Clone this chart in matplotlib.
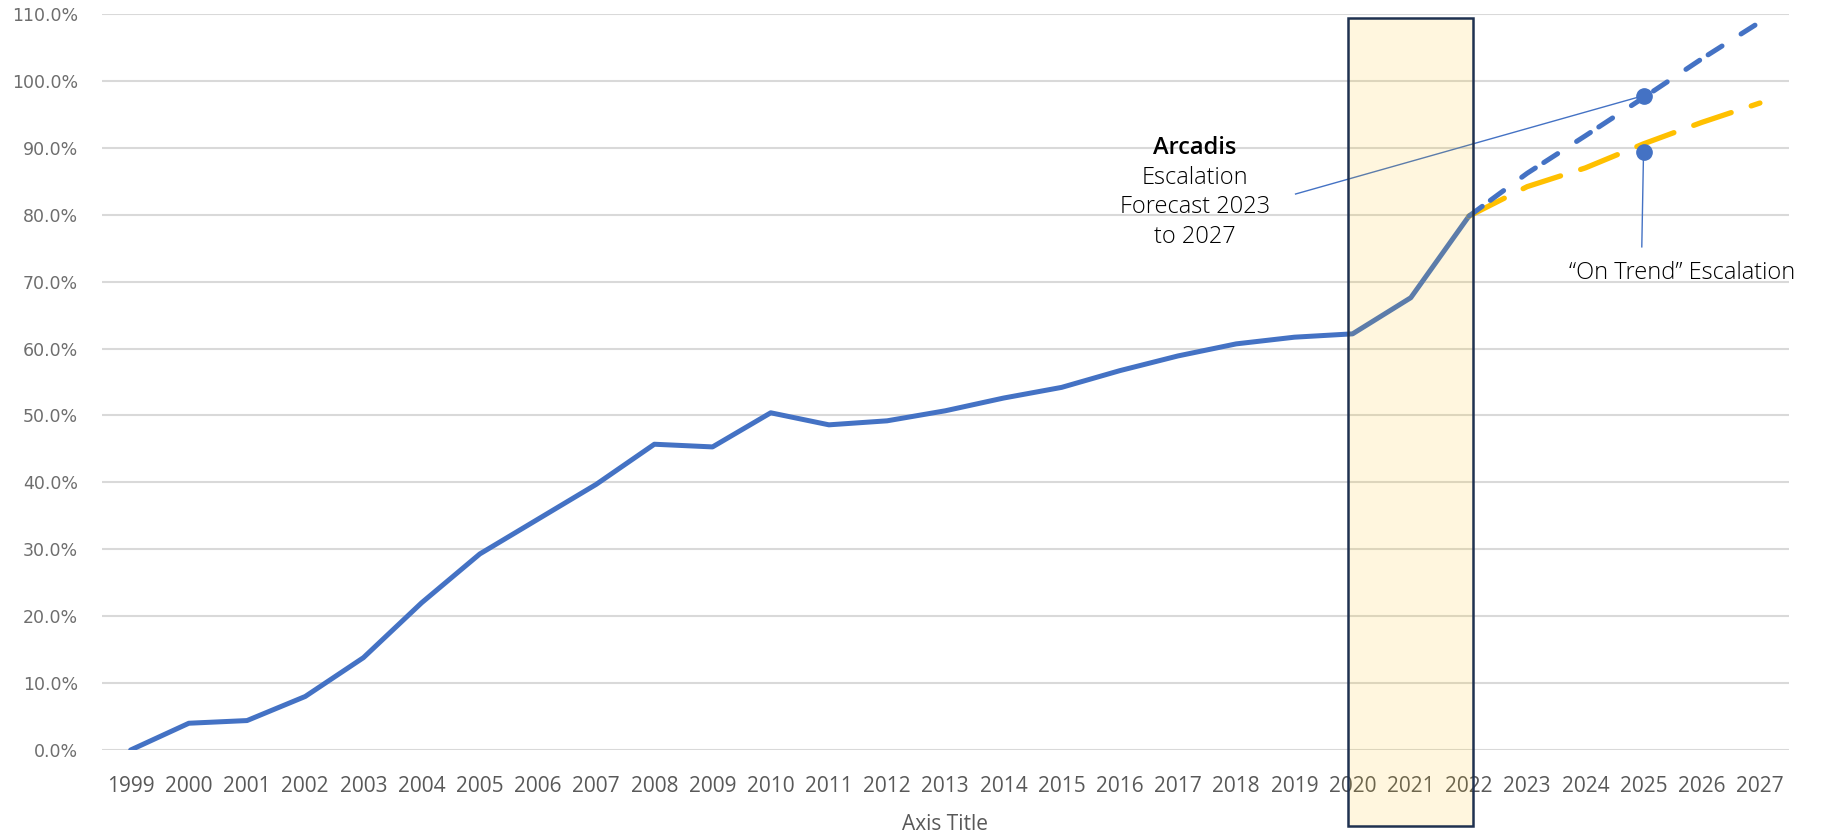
import matplotlib
matplotlib.use("Agg")
import matplotlib.pyplot as plt
import matplotlib.transforms as mtransforms
from matplotlib.patches import Rectangle
from matplotlib.ticker import PercentFormatter
import numpy as np

# ---------------- data ----------------
years = [str(y) for y in range(1999, 2028)]
actual_years = years[:24]          # 1999 .. 2022
actual_values = [0.0, 4.0, 4.4, 8.0, 13.8, 22.0, 29.3, 34.5, 39.7, 45.7, 45.3,
                 50.4, 48.6, 49.2, 50.7, 52.6, 54.2, 56.7, 58.9, 60.7, 61.7,
                 62.2, 67.6, 79.8]
forecast_years = years[23:]        # 2022 .. 2027
arcadis_forecast = [79.8, 86.2, 91.8, 97.5, 103.3, 108.8]
on_trend_forecast = [79.8, 84.2, 87.0, 90.6, 93.8, 96.7]
label_year = "2025"
arcadis_label_point = 97.8
on_trend_label_point = 89.4
highlight_years = ("2020", "2022")
y_ticks = [0, 10, 20, 30, 40, 50, 60, 70, 80, 90, 100, 110]

# ---------------- styling ----------------
FONT = "Open Sans"
BLUE = "#4472C4"
ORANGE = "#FFC000"
GREY = "#595959"
plt.rcParams["font.family"] = [FONT, "DejaVu Sans"]

idx = {y: i for i, y in enumerate(years)}

fig = plt.figure(figsize=(18.3, 8.35), dpi=100)
ax = fig.add_axes([0.0555, 0.1018, 0.9221, 0.8814])

xa = [idx[y] for y in actual_years]
xf = [idx[y] for y in forecast_years]

ax.plot(xa, np.array(actual_values) / 100, color=BLUE, lw=3.6,
        solid_capstyle="round", solid_joinstyle="round", zorder=3)
ax.plot(xf, np.array(on_trend_forecast) / 100, color=ORANGE, lw=3.8,
        dashes=(7.5, 4), dash_capstyle="round", zorder=3)
ax.plot(xf, np.array(arcadis_forecast) / 100, color=BLUE, lw=3.6,
        dashes=(3.3, 2, 3.3, 4.5), dash_capstyle="round", zorder=4)

# label markers and leader lines
xl = idx[label_year]
ax.plot([20.02, xl], [0.831, arcadis_label_point / 100], color=BLUE, lw=1, zorder=5)
ax.plot([xl - 0.03, xl], [0.752, on_trend_label_point / 100], color=BLUE, lw=1, zorder=5)
ax.plot([xl, xl], [arcadis_label_point / 100, on_trend_label_point / 100], 'o',
        color=BLUE, ms=11, zorder=6)

ax.text(18.29, 0.900, "Arcadis", ha="center", va="center", fontsize=17,
        fontweight="semibold", color="black")
for yy, line in zip([0.855, 0.811, 0.766], ["Escalation", "Forecast 2023", "to 2027"]):
    ax.text(18.29, yy, line, ha="center", va="center", fontsize=17,
            fontweight="light", color="black")
ax.text(26.67, 0.713, "\u201cOn Trend\u201d Escalation", ha="center", va="center",
        fontsize=17, fontweight="light", color="black")

# highlight box
trans = mtransforms.blended_transform_factory(ax.transData, ax.transAxes)
x0 = idx[highlight_years[0]] - 0.08
x1 = idx[highlight_years[1]] + 0.07
rect = Rectangle((x0, -0.103), x1 - x0, 1.098, transform=trans,
                 facecolor=(1.0, 0.753, 0.0, 0.13), edgecolor="#1F3150",
                 lw=1.8, clip_on=False, zorder=10)
ax.add_patch(rect)

# axes
ax.set_xlim(-0.5, len(years) - 0.5)
ax.set_ylim(0, 1.10)
ax.set_yticks(np.array(y_ticks) / 100)
ax.yaxis.set_major_formatter(PercentFormatter(xmax=1, decimals=1))
ax.set_xticks(range(len(years)))
ax.set_xticklabels(years)
ax.grid(axis="y", color="#D9D9D9", lw=1.5)
ax.set_axisbelow(True)
for s in ax.spines.values():
    s.set_visible(False)
ax.tick_params(axis="both", length=0, colors=GREY)
ax.tick_params(axis="x", labelsize=15, pad=19)
ax.tick_params(axis="y", labelsize=12.5, pad=17)
for lab in ax.get_yticklabels():
    lab.set_fontfamily("DejaVu Sans")
    lab.set_color("#6E6E6E")
ax.set_xlabel("Axis Title", fontsize=15, color=GREY, labelpad=12)

fig.savefig("out.png", dpi=100, facecolor="white")
